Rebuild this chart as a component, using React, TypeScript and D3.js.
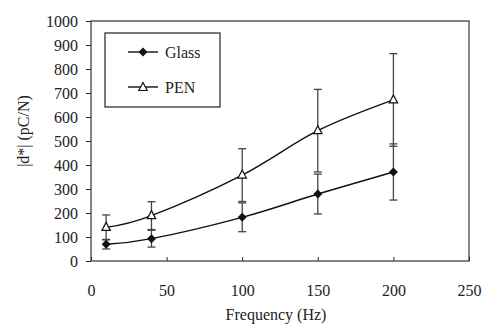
import { useEffect, useRef } from "react";
import * as d3 from "d3";

// values
const freq = [10, 40, 100, 150, 200];
const glass = [70, 93, 182, 279, 371];
const glassErr = [20, 35, 60, 83, 117];
const pen = [140, 189, 358, 543, 671];
const penErr = [52, 58, 110, 172, 193];
const xTicks = [0, 50, 100, 150, 200, 250];
const yTicks = [0, 100, 200, 300, 400, 500, 600, 700, 800, 900, 1000];

const FONT = "Liberation Serif, Times New Roman, Times, DejaVu Serif, serif";

const App = () => {
  const ref = useRef<SVGSVGElement>(null);

  useEffect(() => {
    const width = 485;
    const height = 326;
    const margin = { top: 21, right: 16, bottom: 65, left: 91 };

    const svg = d3.select(ref.current);
    svg.selectAll("*").remove();

    const x = d3.scaleLinear().domain([0, 250]).range([margin.left, width - margin.right]);
    const y = d3.scaleLinear().domain([0, 1000]).range([height - margin.bottom, margin.top]);

    // x axis: ticks pointing into the plot
    const gx = svg.append("g")
      .attr("transform", `translate(0,${height - margin.bottom})`)
      .call(d3.axisBottom(x).tickValues(xTicks).tickFormat(d3.format("d"))
        .tickSizeInner(-4).tickSizeOuter(0).tickPadding(24));
    gx.attr("font-family", null).attr("font-size", null);
    gx.select(".domain").remove();
    gx.selectAll("line").attr("stroke", "#222");
    gx.selectAll("text").style("font-family", FONT).style("font-size", "16px").attr("fill", "#222");

    // y axis: ticks pointing outwards
    const gy = svg.append("g")
      .attr("transform", `translate(${margin.left},0)`)
      .call(d3.axisLeft(y).tickValues(yTicks).tickFormat(d3.format("d"))
        .tickSizeInner(5).tickSizeOuter(0).tickPadding(8));
    gy.attr("font-family", null).attr("font-size", null);
    gy.select(".domain").remove();
    gy.selectAll("line").attr("stroke", "#222");
    gy.selectAll("text").style("font-family", FONT).style("font-size", "16px").attr("fill", "#222");

    // frame
    svg.append("rect")
      .attr("x", x(0)).attr("y", y(1000))
      .attr("width", x(250) - x(0)).attr("height", y(0) - y(1000))
      .attr("fill", "none").attr("stroke", "#333").attr("stroke-width", 1.2);

    const series = [
      { name: "Glass", vals: glass, err: glassErr },
      { name: "PEN", vals: pen, err: penErr },
    ];

    const line = d3.line<number>()
      .x((_, i) => x(freq[i]))
      .y(d => y(d))
      .curve(d3.curveCardinal.tension(0));

    series.forEach(s => {
      const g = svg.append("g");
      // error bars
      s.vals.forEach((v, i) => {
        const cx = x(freq[i]);
        const lo = y(v - s.err[i]);
        const hi = y(v + s.err[i]);
        g.append("line").attr("x1", cx).attr("x2", cx).attr("y1", lo).attr("y2", hi)
          .attr("stroke", "#444").attr("stroke-width", 1.3);
        [lo, hi].forEach(yy => {
          g.append("line").attr("x1", cx - 4).attr("x2", cx + 4).attr("y1", yy).attr("y2", yy)
            .attr("stroke", "#444").attr("stroke-width", 1.3);
        });
      });
      g.append("path").datum(s.vals)
        .attr("fill", "none").attr("stroke", "#111").attr("stroke-width", 1.4)
        .attr("d", line);
    });

    const diamond = (cx: number, cy: number) =>
      `M${cx},${cy - 4.5}L${cx + 4.5},${cy}L${cx},${cy + 4.5}L${cx - 4.5},${cy}Z`;
    const triangle = (cx: number, cy: number) =>
      `M${cx},${cy - 5}L${cx + 4.2},${cy + 3}L${cx - 4.2},${cy + 3}Z`;

    glass.forEach((v, i) => {
      svg.append("path").attr("d", diamond(x(freq[i]), y(v))).attr("fill", "#111");
    });
    pen.forEach((v, i) => {
      svg.append("path").attr("d", triangle(x(freq[i]), y(v)))
        .attr("fill", "#fff").attr("stroke", "#111").attr("stroke-width", 1.2);
    });

    // legend
    const lg = svg.append("g");
    lg.append("rect").attr("x", 105).attr("y", 33).attr("width", 115).attr("height", 74)
      .attr("fill", "#fff").attr("stroke", "#222").attr("stroke-width", 1.2);
    const rows = [{ name: "Glass", y: 52 }, { name: "PEN", y: 87 }];
    rows.forEach((r, i) => {
      lg.append("line").attr("x1", 128).attr("x2", 158).attr("y1", r.y).attr("y2", r.y)
        .attr("stroke", "#111").attr("stroke-width", 1.4);
      if (i === 0) lg.append("path").attr("d", diamond(143, r.y)).attr("fill", "#111");
      else lg.append("path").attr("d", triangle(143, r.y + 0.5))
        .attr("fill", "#fff").attr("stroke", "#111").attr("stroke-width", 1.2);
      lg.append("text").attr("x", 165).attr("y", r.y + 5.5)
        .style("font-family", FONT).style("font-size", "16px").attr("fill", "#222").text(r.name);
    });

    // axis titles
    svg.append("text")
      .attr("x", 276).attr("y", 320).attr("text-anchor", "middle")
      .style("font-family", FONT).style("font-size", "16px").attr("fill", "#222")
      .text("Frequency (Hz)");
    svg.append("text")
      .attr("transform", "translate(29,131) rotate(-90)").attr("text-anchor", "middle")
      .style("font-family", FONT).style("font-size", "16px").attr("fill", "#222")
      .text("|d*| (pC/N)");
  }, []);

  return (
    <svg ref={ref} width={485} height={326}
      style={{ position: "absolute", left: 0, top: 0, background: "#fff" }} />
  );
};

export default App;
